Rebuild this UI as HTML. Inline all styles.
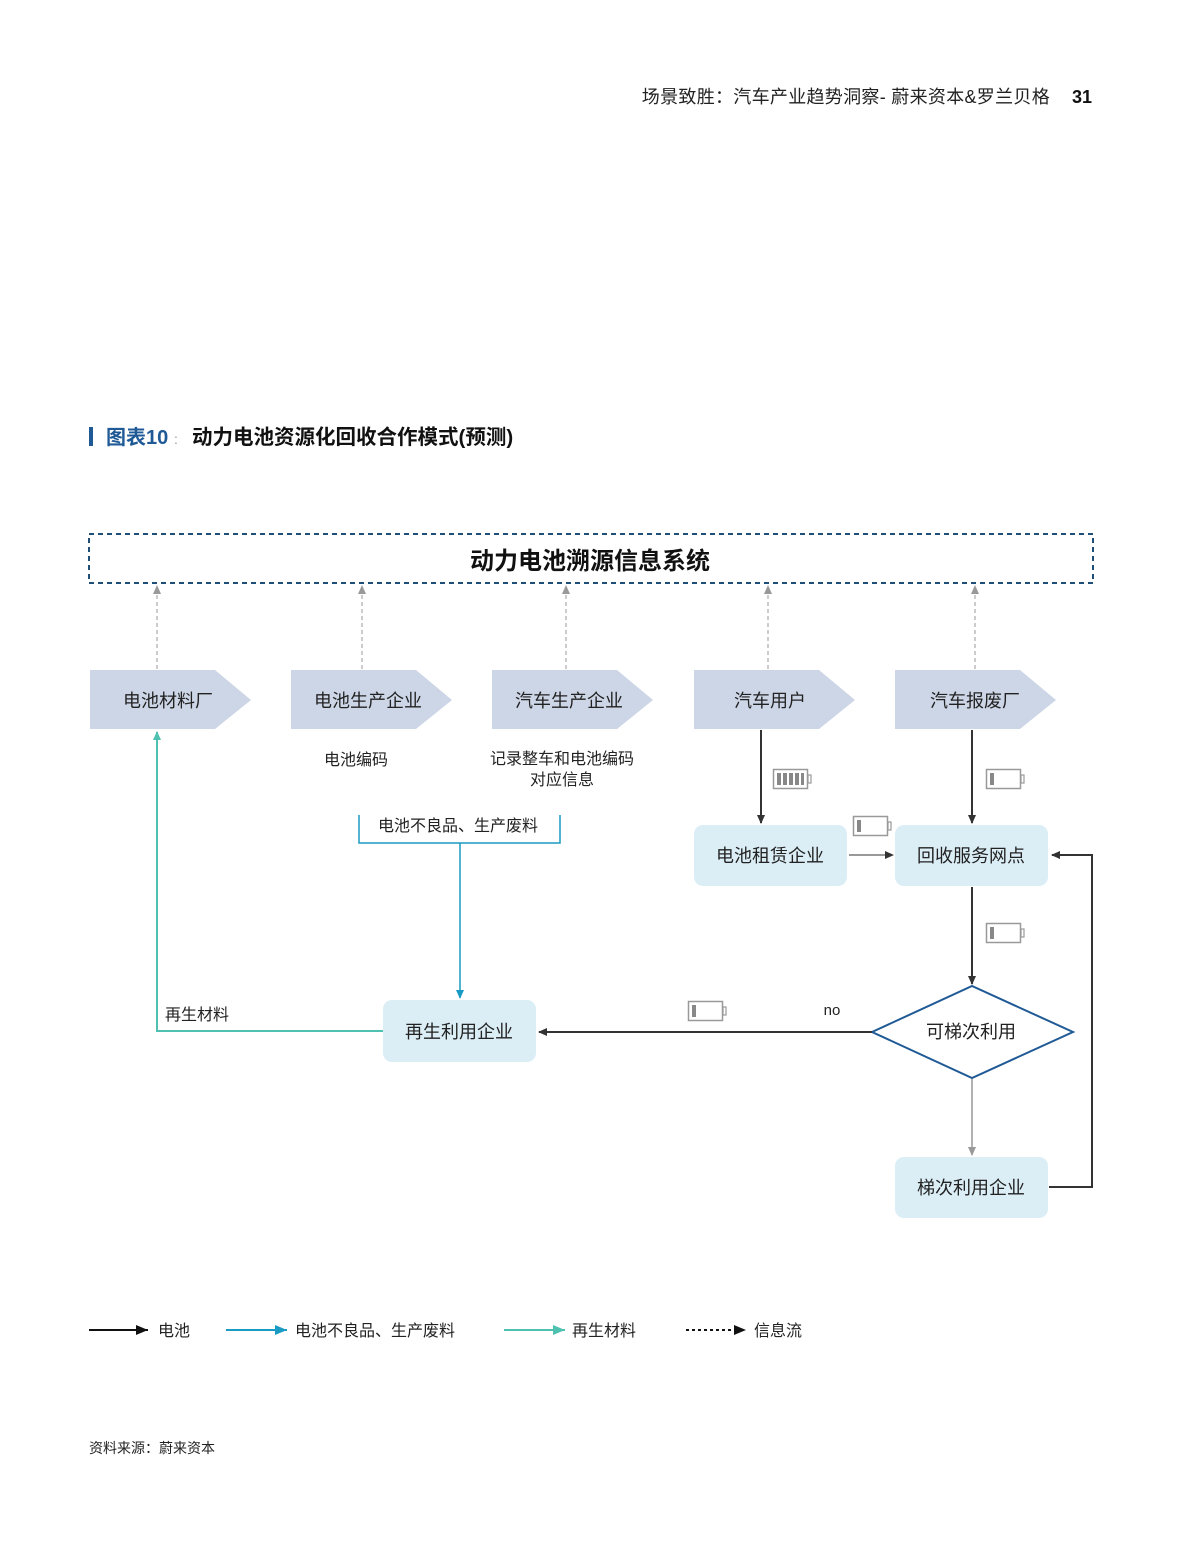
<!DOCTYPE html>
<html><head><meta charset="utf-8"><style>
html,body{margin:0;padding:0;background:#fff}
svg{display:block}
text{font-family:"Liberation Sans","Noto Sans CJK SC",sans-serif}
</style></head><body>
<svg width="1181" height="1565" viewBox="0 0 1181 1565" xmlns="http://www.w3.org/2000/svg">
<defs>
<marker id="ak" markerWidth="10" markerHeight="10" refX="8" refY="5" orient="auto" markerUnits="userSpaceOnUse"><path d="M0,1 L9,5 L0,9 z" fill="#333"/></marker>
<marker id="ag" markerWidth="10" markerHeight="10" refX="8" refY="5" orient="auto" markerUnits="userSpaceOnUse"><path d="M0,1 L9,5 L0,9 z" fill="#999"/></marker>
<marker id="ab" markerWidth="10" markerHeight="10" refX="8" refY="5" orient="auto" markerUnits="userSpaceOnUse"><path d="M0,1 L9,5 L0,9 z" fill="#1a9bc4"/></marker>
<marker id="agr" markerWidth="10" markerHeight="10" refX="8" refY="5" orient="auto" markerUnits="userSpaceOnUse"><path d="M0,1 L9,5 L0,9 z" fill="#4fc1b0"/></marker>
<marker id="lk" markerWidth="14" markerHeight="12" refX="12" refY="6" orient="auto" markerUnits="userSpaceOnUse"><path d="M0,1 L12,6 L0,11 z" fill="#111"/></marker>
<marker id="lb" markerWidth="14" markerHeight="12" refX="12" refY="6" orient="auto" markerUnits="userSpaceOnUse"><path d="M0,1 L12,6 L0,11 z" fill="#1a9bc4"/></marker>
<marker id="lg" markerWidth="14" markerHeight="12" refX="12" refY="6" orient="auto" markerUnits="userSpaceOnUse"><path d="M0,1 L12,6 L0,11 z" fill="#4fc1b0"/></marker>
<g id="batlow"><rect x="0.5" y="0.5" width="34" height="19" fill="#fff" stroke="#999" stroke-width="1.5"/><rect x="35" y="6" width="3" height="8" fill="none" stroke="#999" stroke-width="1.2"/><rect x="4" y="4" width="4" height="12" fill="#888"/></g>
</defs>

<text x="1050" y="103" font-size="18" fill="#222" text-anchor="end" letter-spacing="0.3">场景致胜：汽车产业趋势洞察- 蔚来资本&amp;罗兰贝格</text>
<text x="1092" y="103" font-size="18" font-weight="bold" fill="#111" text-anchor="end">31</text>

<rect x="89" y="427" width="4" height="19" fill="#1f5a96"/>
<text x="106" y="444" font-size="20" font-weight="bold" fill="#1f5a96">图表10</text>
<text x="174" y="444" font-size="14" fill="#999">:</text>
<text x="192" y="444" font-size="20.5" font-weight="bold" fill="#111">动力电池资源化回收合作模式(预测)</text>

<rect x="89" y="534" width="1004" height="49" fill="none" stroke="#1f4e79" stroke-width="2" stroke-dasharray="5,4"/>
<text x="590" y="569" font-size="24" font-weight="bold" fill="#111" text-anchor="middle">动力电池溯源信息系统</text>

<g stroke="#999" stroke-width="1" stroke-dasharray="4,3" fill="none" marker-end="url(#ag)">
<line x1="157" y1="669" x2="157" y2="586"/>
<line x1="362" y1="669" x2="362" y2="586"/>
<line x1="566" y1="669" x2="566" y2="586"/>
<line x1="768" y1="669" x2="768" y2="586"/>
<line x1="975" y1="669" x2="975" y2="586"/>
</g>

<g fill="#cdd6e6">
<polygon points="90,670 215,670 251,700 215,729 90,729"/>
<polygon points="291,670 416,670 452,700 416,729 291,729"/>
<polygon points="492,670 617,670 653,700 617,729 492,729"/>
<polygon points="694,670 819,670 855,700 819,729 694,729"/>
<polygon points="895,670 1020,670 1056,700 1020,729 895,729"/>
</g>
<g font-size="18" fill="#222" text-anchor="middle">
<text x="168" y="707">电池材料厂</text>
<text x="368" y="707">电池生产企业</text>
<text x="569" y="707">汽车生产企业</text>
<text x="770" y="707">汽车用户</text>
<text x="975" y="707">汽车报废厂</text>
</g>

<g font-size="16" fill="#222" text-anchor="middle">
<text x="356" y="765">电池编码</text>
<text x="562" y="764">记录整车和电池编码</text>
<text x="562" y="785">对应信息</text>
<text x="458" y="831">电池不良品、生产废料</text>
</g>

<path d="M359,815 L359,843 L560,843 L560,815" fill="none" stroke="#1a9bc4" stroke-width="1.5"/>
<line x1="460" y1="843" x2="460" y2="998" stroke="#1a9bc4" stroke-width="1.5" marker-end="url(#ab)"/>

<g fill="#dbeef6">
<rect x="694" y="825" width="153" height="61" rx="9"/>
<rect x="895" y="825" width="153" height="61" rx="9"/>
<rect x="383" y="1000" width="153" height="62" rx="9"/>
<rect x="895" y="1157" width="153" height="61" rx="9"/>
</g>
<g font-size="18" fill="#222" text-anchor="middle">
<text x="770" y="862">电池租赁企业</text>
<text x="971" y="862">回收服务网点</text>
<text x="459" y="1038">再生利用企业</text>
<text x="971" y="1194">梯次利用企业</text>
</g>

<polygon points="872,1032 972,986 1073,1032 972,1078" fill="#fff" stroke="#1f5a96" stroke-width="2"/>
<text x="971" y="1038" font-size="18" fill="#222" text-anchor="middle">可梯次利用</text>

<g stroke="#333" stroke-width="2" fill="none" marker-end="url(#ak)">
<line x1="761" y1="730" x2="761" y2="823"/>
<line x1="972" y1="730" x2="972" y2="823"/>
<line x1="972" y1="887" x2="972" y2="984"/>
<line x1="872" y1="1032" x2="539" y2="1032"/>
<path d="M1049,1187 L1092,1187 L1092,855 L1052,855"/>
</g>
<line x1="849" y1="855" x2="893" y2="855" stroke="#333" stroke-width="1" marker-end="url(#ak)"/>
<line x1="972" y1="1079" x2="972" y2="1155" stroke="#999" stroke-width="1.5" marker-end="url(#ag)"/>
<text x="832" y="1015" font-size="15" fill="#222" text-anchor="middle">no</text>

<path d="M383,1031 L157,1031 L157,732" fill="none" stroke="#4fc1b0" stroke-width="2" marker-end="url(#agr)"/>
<text x="165" y="1020" font-size="16" fill="#222">再生材料</text>

<g transform="translate(773,769)"><rect x="0.5" y="0.5" width="34" height="19" fill="#fff" stroke="#999" stroke-width="1.5"/><rect x="35" y="6" width="3" height="8" fill="none" stroke="#999" stroke-width="1.2"/><rect x="4" y="4" width="4" height="12" fill="#888"/><rect x="10" y="4" width="4" height="12" fill="#888"/><rect x="16" y="4" width="4" height="12" fill="#888"/><rect x="22" y="4" width="4" height="12" fill="#888"/><rect x="28" y="4" width="3" height="12" fill="#888"/></g>
<use href="#batlow" x="986" y="769"/>
<use href="#batlow" x="853" y="816"/>
<use href="#batlow" x="986" y="923"/>
<use href="#batlow" x="688" y="1001"/>

<line x1="89" y1="1330" x2="148" y2="1330" stroke="#111" stroke-width="2" marker-end="url(#lk)"/>
<text x="158" y="1336" font-size="16" fill="#222">电池</text>
<line x1="226" y1="1330" x2="287" y2="1330" stroke="#1a9bc4" stroke-width="2" marker-end="url(#lb)"/>
<text x="295" y="1336" font-size="16" fill="#222">电池不良品、生产废料</text>
<line x1="504" y1="1330" x2="565" y2="1330" stroke="#4fc1b0" stroke-width="2" marker-end="url(#lg)"/>
<text x="572" y="1336" font-size="16" fill="#222">再生材料</text>
<line x1="686" y1="1330" x2="746" y2="1330" stroke="#111" stroke-width="2" stroke-dasharray="3,3" marker-end="url(#lk)"/>
<text x="754" y="1336" font-size="16" fill="#222">信息流</text>

<text x="89" y="1453" font-size="14" fill="#222">资料来源：蔚来资本</text>
</svg>
</body></html>
